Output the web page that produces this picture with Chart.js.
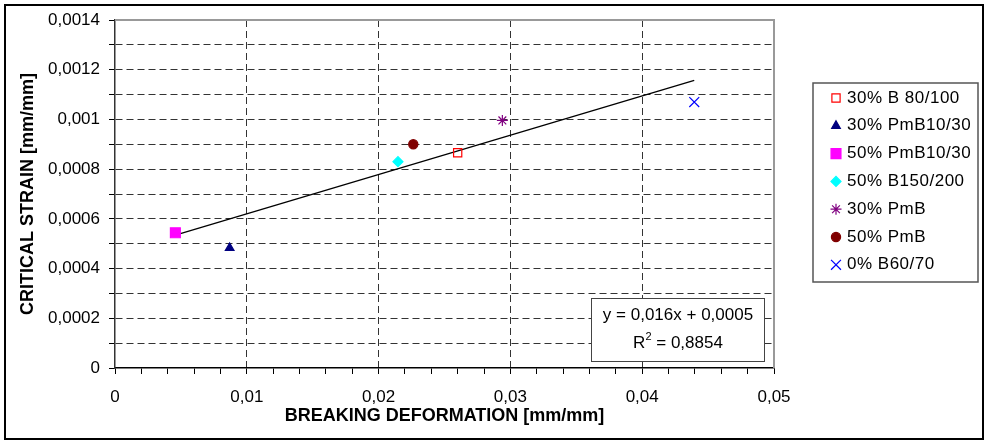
<!DOCTYPE html>
<html>
<head>
<meta charset="utf-8">
<script src="https://cdn.jsdelivr.net/npm/chart.js@4.4.0/dist/chart.umd.min.js"></script>
<style>
  html, body { margin: 0; padding: 0; background: #fff; }
  #wrap { width: 987px; height: 443px; }
</style>
</head>
<body>
<div id="wrap"><canvas id="myChart" width="987" height="443"></canvas></div>
<script>
// values
const seriesNames = ['30% B 80/100', '30% PmB10/30', '50% PmB10/30', '50% B150/200', '30% PmB', '50% PmB', '0% B60/70'];
const breakingDeformation = [0.0260, 0.0087, 0.00458, 0.02147, 0.02939, 0.02263, 0.04395];
const criticalStrain = [0.000866, 0.000483, 0.000544, 0.000830, 0.000996, 0.000900, 0.00107];

// linear trend line end points (as drawn in the picture)
const trendX = [0.00458, 0.04395];
const trendY = [0.000535, 0.001157];
const trendText = ['y = 0,016x + 0,0005', '0,8854'];

const markerStyle = ['rect', 'triangle', 'rect', 'rectRot', 'star', 'circle', 'crossRot'];
const markerColor = ['#FF0000', '#000080', '#FF00FF', '#00FFFF', '#800080', '#800000', '#0000FF'];
const markerFill = [false, true, true, true, false, true, false];
const markerSize = [5.8, 5, 7, 5, 5.5, 4.6, 7];

const FONT = '"Liberation Sans", Arial, sans-serif';

function fmt(v) {
    if (Math.abs(v) < 1e-12) return '0';
    return parseFloat(v.toPrecision(6)).toString().replace('.', ',');
}

const datasets = seriesNames.map((name, i) => ({
    label: name,
    data: [{ x: breakingDeformation[i], y: criticalStrain[i] }],
    pointStyle: markerStyle[i],
    pointRadius: markerSize[i],
    pointHoverRadius: markerSize[i],
    borderColor: markerColor[i],
    backgroundColor: markerFill[i] ? markerColor[i] : 'rgba(0,0,0,0)',
    borderWidth: 1.2,
    order: 1
}));

datasets.push({
    label: 'trend',
    data: trendX.map((x, i) => ({ x: x, y: trendY[i] })),
    showLine: true,
    borderColor: '#000',
    borderWidth: 1.3,
    pointRadius: 0,
    pointHoverRadius: 0,
    order: 2
});

const framePlugin = {
    id: 'frame',
    beforeDatasetsDraw(chart) {
        const ctx = chart.ctx;
        const a = chart.chartArea;
        ctx.save();
        ctx.strokeStyle = '#999';
        ctx.lineWidth = 2;
        ctx.beginPath();
        ctx.moveTo(a.left, a.top);
        ctx.lineTo(a.right, a.top);
        ctx.lineTo(a.right, a.bottom);
        ctx.stroke();
        ctx.restore();
    },
    afterDraw(chart) {
        const ctx = chart.ctx;
        ctx.save();

        // outer border
        ctx.strokeStyle = '#000';
        ctx.lineWidth = 2;
        ctx.strokeRect(5, 5, 978, 434);

        // trend equation box
        ctx.fillStyle = '#fff';
        ctx.fillRect(591, 298, 174, 64);
        ctx.strokeStyle = '#444';
        ctx.lineWidth = 1;
        ctx.strokeRect(591.5, 298.5, 173, 63);
        ctx.fillStyle = '#000';
        ctx.font = '17px ' + FONT;
        ctx.textBaseline = 'middle';
        ctx.textAlign = 'center';
        ctx.fillText(trendText[0], 678, 315);
        // R² line
        const rest = ' = ' + trendText[1];
        const wR = ctx.measureText('R').width;
        ctx.font = '11px ' + FONT;
        const w2 = ctx.measureText('2').width;
        ctx.font = '17px ' + FONT;
        const wRest = ctx.measureText(rest).width;
        let x0 = 678 - (wR + w2 + wRest) / 2;
        ctx.textAlign = 'left';
        ctx.fillText('R', x0, 343);
        ctx.font = '11px ' + FONT;
        ctx.fillText('2', x0 + wR, 337);
        ctx.font = '17px ' + FONT;
        ctx.fillText(rest, x0 + wR + w2, 343);

        // legend
        ctx.fillStyle = '#fff';
        ctx.fillRect(813, 83, 165, 199);
        ctx.strokeStyle = '#555';
        ctx.lineWidth = 1.5;
        ctx.strokeRect(813, 83, 165, 199);
        const sets = chart.data.datasets.filter(d => d.label !== 'trend');
        sets.forEach((d, i) => {
            const y = 98 + i * 27.8;
            ctx.save();
            ctx.strokeStyle = d.borderColor;
            ctx.fillStyle = d.backgroundColor;
            ctx.lineWidth = d.borderWidth;
            Chart.helpers.drawPoint(ctx, {
                pointStyle: d.pointStyle,
                radius: d.pointRadius,
                rotation: 0,
                borderWidth: d.borderWidth
            }, 836, y);
            ctx.restore();
            ctx.fillStyle = '#000';
            ctx.font = '17px ' + FONT;
            ctx.textAlign = 'left';
            ctx.textBaseline = 'middle';
            ctx.letterSpacing = '0.5px';
            ctx.fillText(d.label, 847, y);
            ctx.letterSpacing = '0px';
        });
        ctx.restore();
    }
};

const ctx = document.getElementById('myChart').getContext('2d');
const myChart = new Chart(ctx, {
    type: 'scatter',
    data: { datasets: datasets },
    options: {
        responsive: false,
        animation: false,
        layout: { padding: { left: 0, top: 20, right: 213, bottom: 0 } },
        plugins: {
            legend: { display: false },
            tooltip: { enabled: false }
        },
        scales: {
            x: {
                type: 'linear',
                min: 0,
                max: 0.05,
                afterFit: function(s) {
                    s.height = 75;
                    s.paddingLeft = 0;
                    s.paddingRight = 0;
                },
                ticks: {
                    stepSize: 0.002,
                    autoSkip: false,
                    maxRotation: 0,
                    padding: 13,
                    color: '#000',
                    font: { family: FONT, size: 17 },
                    callback: function(v) {
                        return (Math.round(v / 0.002) % 5 === 0) ? fmt(v) : '';
                    }
                },
                grid: {
                    color: function(c) {
                        if (!c.tick) return 'rgba(0,0,0,0)';
                        const k = Math.round(c.tick.value / 0.002);
                        return (k % 5 === 0 && k !== 0 && k !== 25) ? '#333' : 'rgba(0,0,0,0)';
                    },
                    tickColor: '#000',
                    tickLength: 6,
                    lineWidth: 1
                },
                border: { color: '#000', width: 1.5, dash: [7, 4] },
                title: {
                    display: true,
                    text: 'BREAKING DEFORMATION [mm/mm]',
                    color: '#000',
                    font: { family: FONT, size: 18, weight: 'bold' },
                    padding: { top: 0, bottom: 16 }
                }
            },
            y: {
                type: 'linear',
                min: 0,
                max: 0.0014,
                afterFit: function(s) {
                    s.width = 115;
                    s.paddingTop = 0;
                    s.paddingBottom = 0;
                },
                ticks: {
                    stepSize: 0.0001,
                    autoSkip: false,
                    padding: 9,
                    color: '#000',
                    font: { family: FONT, size: 17 },
                    callback: function(v) {
                        return (Math.round(v / 0.0001) % 2 === 0) ? fmt(v) : '';
                    }
                },
                grid: {
                    color: function(c) {
                        if (!c.tick) return 'rgba(0,0,0,0)';
                        const k = Math.round(c.tick.value / 0.0001);
                        return (k === 0 || k === 14) ? 'rgba(0,0,0,0)' : '#333';
                    },
                    tickColor: '#000',
                    tickLength: 6,
                    lineWidth: 1
                },
                border: { color: '#333', width: 1.5, dash: [7, 4] },
                title: {
                    display: true,
                    text: 'CRITICAL STRAIN [mm/mm]',
                    color: '#000',
                    font: { family: FONT, size: 18, weight: 'bold' },
                    padding: { top: 17, bottom: 0 }
                }
            }
        }
    },
    plugins: [framePlugin]
});
</script>
</body>
</html>
